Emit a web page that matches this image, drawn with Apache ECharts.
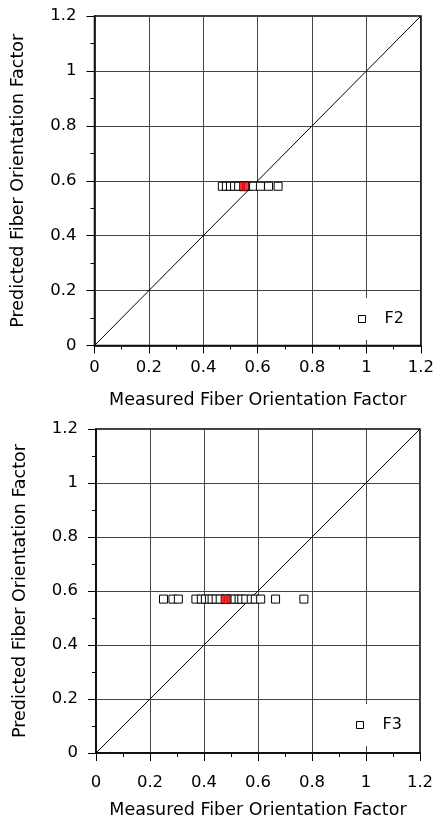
<!DOCTYPE html>
<html>
<head>
<meta charset="utf-8">
<script src="https://cdn.jsdelivr.net/npm/echarts@6/dist/echarts.min.js"></script>
<style>
  html, body { margin: 0; padding: 0; background: #fff; }
  #chart { width: 437px; height: 821px; }
</style>
</head>
<body>
<div id="chart"></div>
<script>
// measured values (x) and predicted value (y) for each specimen
var f2Measured = [0.47, 0.485, 0.50, 0.515, 0.53, 0.565, 0.585, 0.61, 0.64, 0.675];
var f2Predicted = [0.58, 0.58, 0.58, 0.58, 0.58, 0.58, 0.58, 0.58, 0.58, 0.58];
var f2Mean = [0.55, 0.58];

var f3Measured = [0.25, 0.285, 0.305, 0.37, 0.39, 0.405, 0.42, 0.43, 0.445, 0.46,
                  0.50, 0.515, 0.53, 0.54, 0.555, 0.575, 0.59, 0.61, 0.665, 0.77];
var f3Predicted = [0.57, 0.57, 0.57, 0.57, 0.57, 0.57, 0.57, 0.57, 0.57, 0.57,
                   0.57, 0.57, 0.57, 0.57, 0.57, 0.57, 0.57, 0.57, 0.57, 0.57];
var f3Mean = [0.48, 0.57];

var equality = [[0, 0], [1.2, 1.2]];
var axisTicks = [0, 0.2, 0.4, 0.6, 0.8, 1, 1.2];

var chart = echarts.init(document.getElementById('chart'));
var FONT = 'DejaVu Sans';

function pairs(xs, ys) {
    var out = [];
    for (var i = 0; i < xs.length; i++) out.push([xs[i], ys[i]]);
    return out;
}

function axis(idx, isX, name, labelMargin, nameGap) {
    return {
        type: 'value',
        gridIndex: idx,
        min: 0,
        max: 1.2,
        interval: 0.2,
        name: name,
        nameLocation: 'middle',
        nameGap: nameGap,
        nameRotate: isX ? 0 : 90,
        nameTextStyle: { fontFamily: FONT, fontSize: 17.5, color: '#000' },
        axisLine: { show: true, onZero: false, lineStyle: { color: '#000', width: 1.5 } },
        axisTick: { show: true, length: 8, lineStyle: { color: '#000', width: 1 } },
        minorTick: { show: true, splitNumber: 2, length: 4, lineStyle: { color: '#000', width: 1 } },
        splitLine: { show: true, lineStyle: { color: '#444', width: 1 } },
        axisLabel: {
            margin: labelMargin,
            fontFamily: FONT,
            fontSize: 16.5,
            color: '#000',
            formatter: function (v) {
                var s = axisTicks.filter(function (t) { return Math.abs(t - v) < 1e-6; });
                return s.length ? String(s[0]) : '';
            }
        }
    };
}

function markers(name, data, xi, yi) {
    return {
        name: name,
        type: 'scatter',
        xAxisIndex: xi,
        yAxisIndex: yi,
        symbol: 'rect',
        symbolSize: 8,
        itemStyle: { color: '#fff', borderColor: '#000', borderWidth: 1, opacity: 1 },
        data: data,
        z: 3
    };
}

function legendBox(name, left, top) {
    return {
        data: [name], left: left, top: top, orient: 'vertical',
        backgroundColor: '#fff', padding: [13, 10, 13, 8],
        itemWidth: 7, itemHeight: 7,
        itemStyle: { color: '#fff', borderColor: '#000', borderWidth: 1 },
        textStyle: { fontFamily: FONT, fontSize: 16, color: '#000', padding: [0, 0, 0, 14] }
    };
}

var option = {
    animation: false,
    backgroundColor: '#fff',
    grid: [
        { left: 94.5, top: 16, width: 328, height: 329.5, show: true, borderColor: '#000', borderWidth: 1.5 },
        { left: 96, top: 429, width: 324, height: 324, show: true, borderColor: '#000', borderWidth: 1.5 }
    ],
    xAxis: [
        axis(0, true, 'Measured Fiber Orientation Factor', 14, 46),
        axis(1, true, 'Measured Fiber Orientation Factor', 21, 48)
    ],
    yAxis: [
        axis(0, false, 'Predicted Fiber Orientation Factor', 18, 67),
        axis(1, false, 'Predicted Fiber Orientation Factor', 18, 67)
    ],
    legend: [
        legendBox('F2', 350, 298),
        legendBox('F3', 348, 704)
    ],
    series: [
        { type: 'line', xAxisIndex: 0, yAxisIndex: 0, data: equality, symbol: 'none',
          lineStyle: { color: '#000', width: 1 }, z: 2 },
        markers('F2', pairs(f2Measured, f2Predicted), 0, 0),
        { type: 'scatter', xAxisIndex: 0, yAxisIndex: 0, symbol: 'rect', symbolSize: 9,
          itemStyle: { color: '#f00', borderColor: '#000', borderWidth: 1 }, data: [f2Mean], z: 4 },
        { type: 'line', xAxisIndex: 1, yAxisIndex: 1, data: equality, symbol: 'none',
          lineStyle: { color: '#000', width: 1 }, z: 2 },
        markers('F3', pairs(f3Measured, f3Predicted), 1, 1),
        { type: 'scatter', xAxisIndex: 1, yAxisIndex: 1, symbol: 'rect', symbolSize: 9,
          itemStyle: { color: '#f00', borderColor: '#000', borderWidth: 1 }, data: [f3Mean], z: 4 }
    ]
};

chart.setOption(option);
</script>
</body>
</html>
